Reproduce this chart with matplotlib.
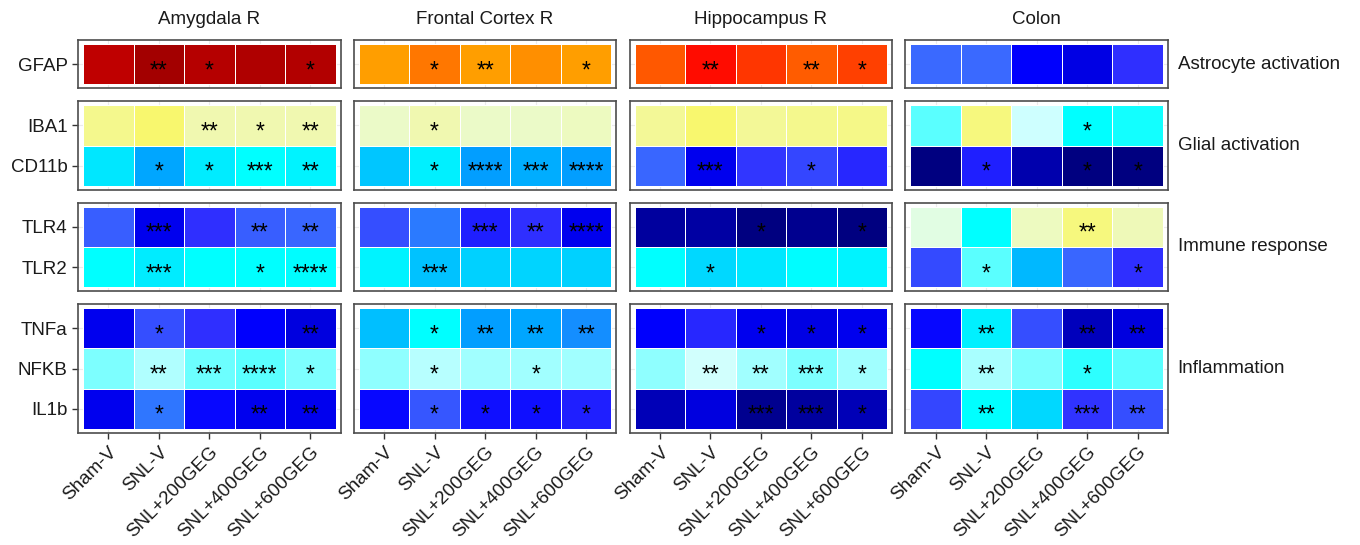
import numpy as np
import matplotlib
matplotlib.use('Agg')
import matplotlib.pyplot as plt
from matplotlib.colors import LinearSegmentedColormap

plt.rcParams['font.family'] = ['Liberation Sans', 'DejaVu Sans']

# Ejes / categorías
treatments = ['Sham-V', 'SNL-V', 'SNL+200GEG', 'SNL+400GEG', 'SNL+600GEG']
tissues = ['Amygdala R', 'Frontal Cortex R', 'Hippocampus R', 'Colon']
groups = ['Astrocyte activation', 'Glial activation', 'Immune response', 'Inflammation']
group_genes = [['GFAP'], ['IBA1', 'CD11b'], ['TLR4', 'TLR2'], ['TNFa', 'NFKB', 'IL1b']]

# Puntuación relativa de expresión (0 = más baja, 1 = más alta), filas:
# GFAP, IBA1, CD11b, TLR4, TLR2, TNFa, NFKB, IL1b
amygdala_vals = [
    [0.939, 0.974, 0.952, 0.958, 0.954],
    [0.625, 0.650, 0.600, 0.600, 0.600],
    [0.363, 0.289, 0.369, 0.400, 0.382],
    [0.218, 0.088, 0.170, 0.218, 0.226],
    [0.400, 0.369, 0.400, 0.400, 0.395],
    [0.088, 0.202, 0.170, 0.100, 0.076],
    [0.456, 0.487, 0.446, 0.438, 0.456],
    [0.088, 0.240, 0.112, 0.088, 0.088],
]
frontal_vals = [
    [0.720, 0.760, 0.720, 0.736, 0.720],
    [0.575, 0.600, 0.575, 0.575, 0.585],
    [0.324, 0.376, 0.280, 0.293, 0.280],
    [0.202, 0.245, 0.147, 0.170, 0.088],
    [0.382, 0.319, 0.333, 0.337, 0.333],
    [0.315, 0.400, 0.280, 0.289, 0.265],
    [0.463, 0.495, 0.470, 0.470, 0.470],
    [0.112, 0.210, 0.123, 0.123, 0.147],
]
hippo_vals = [
    [0.792, 0.848, 0.818, 0.788, 0.812],
    [0.619, 0.650, 0.619, 0.625, 0.631],
    [0.226, 0.088, 0.178, 0.194, 0.158],
    [0.025, 0.031, 0.000, 0.013, 0.000],
    [0.400, 0.341, 0.363, 0.395, 0.382],
    [0.100, 0.158, 0.088, 0.082, 0.088],
    [0.463, 0.520, 0.470, 0.456, 0.470],
    [0.044, 0.076, 0.013, 0.025, 0.044],
]
colon_vals = [
    [0.230, 0.230, 0.100, 0.082, 0.170],
    [0.440, 0.638, 0.516, 0.400, 0.407],
    [0.000, 0.147, 0.038, 0.000, 0.000],
    [0.550, 0.400, 0.585, 0.638, 0.590],
    [0.198, 0.440, 0.306, 0.226, 0.170],
    [0.112, 0.376, 0.202, 0.050, 0.076],
    [0.400, 0.478, 0.456, 0.421, 0.438],
    [0.194, 0.400, 0.341, 0.175, 0.202],
]

# Significancia
amygdala_sig = [
    ['', '**', '*', '', '*'],
    ['', '', '**', '*', '**'],
    ['', '*', '*', '***', '**'],
    ['', '***', '', '**', '**'],
    ['', '***', '', '*', '****'],
    ['', '*', '', '', '**'],
    ['', '**', '***', '****', '*'],
    ['', '*', '', '**', '**'],
]
frontal_sig = [
    ['', '*', '**', '', '*'],
    ['', '*', '', '', ''],
    ['', '*', '****', '***', '****'],
    ['', '', '***', '**', '****'],
    ['', '***', '', '', ''],
    ['', '*', '**', '**', '**'],
    ['', '*', '', '*', ''],
    ['', '*', '*', '*', '*'],
]
hippo_sig = [
    ['', '**', '', '**', '*'],
    ['', '', '', '', ''],
    ['', '***', '', '*', ''],
    ['', '', '*', '', '*'],
    ['', '*', '', '', ''],
    ['', '', '*', '*', '*'],
    ['', '**', '**', '***', '*'],
    ['', '', '***', '***', '*'],
]
colon_sig = [
    ['', '', '', '', ''],
    ['', '', '', '*', ''],
    ['', '*', '', '*', '*'],
    ['', '', '', '**', ''],
    ['', '*', '', '', '*'],
    ['', '**', '', '**', '**'],
    ['', '**', '', '*', ''],
    ['', '**', '', '***', '**'],
]

all_vals = [amygdala_vals, frontal_vals, hippo_vals, colon_vals]
all_sig = [amygdala_sig, frontal_sig, hippo_sig, colon_sig]

# Escala de color
anchors = [
    (0.00, '#000080'), (0.10, '#0000FF'), (0.17, '#3030FF'), (0.23, '#3A6CFF'),
    (0.28, '#00A0FF'), (0.35, '#00E0FF'), (0.40, '#00FFFF'), (0.47, '#A0FFFF'),
    (0.52, '#D0FFFF'), (0.56, '#E8FCD8'), (0.60, '#F0F8B0'), (0.65, '#F8F870'),
    (0.72, '#FFA000'), (0.80, '#FF5000'), (0.86, '#FF0000'), (1.00, '#900000'),
]
cmap = LinearSegmentedColormap.from_list('expr', anchors)

fig = plt.figure(figsize=(13.6, 5.45), dpi=100)
gs = fig.add_gridspec(4, 4, left=78/1360, right=1168/1360, top=1-40/545, bottom=1-433/545,
                      height_ratios=[len(g) + 0.2 for g in group_genes],
                      wspace=0.05, hspace=0.146)

row_start = np.cumsum([0] + [len(g) for g in group_genes])
fs = 13.5

for j, tissue in enumerate(tissues):
    vals = np.array(all_vals[j])
    sig = all_sig[j]
    for i, genes in enumerate(group_genes):
        ax = fig.add_subplot(gs[i, j])
        r0 = row_start[i]
        n = len(genes)
        block = vals[r0:r0 + n]
        ax.set_axisbelow(True)
        ax.grid(True, color='#EBEBEB', lw=0.8, zorder=0)
        xe = np.arange(len(treatments) + 1) - 0.5
        ye = np.arange(n + 1) - 0.5
        ax.pcolormesh(xe, ye, block, cmap=cmap, vmin=0, vmax=1,
                      edgecolors='white', linewidth=0.6, zorder=2)
        for r in range(n):
            for c in range(len(treatments)):
                s = sig[r0 + r][c]
                if s:
                    ax.text(c, r + 0.16, s, ha='center', va='center',
                            fontsize=16.5, color='black', zorder=3)
        ax.set_xlim(-0.6, len(treatments) - 0.4)
        ax.set_ylim(n - 0.4, -0.6)
        ax.set_xticks(range(len(treatments)))
        ax.set_yticks(range(n))
        for sp in ax.spines.values():
            sp.set_color('#4D4D4D')
            sp.set_linewidth(1.2)
            sp.set_zorder(4)
        ax.tick_params(color='#333333', width=1.0, length=4, labelsize=fs,
                       labelcolor='#1A1A1A')
        if j == 0:
            ax.set_yticklabels(genes)
        else:
            ax.tick_params(axis='y', left=False, labelleft=False)
        if i == len(group_genes) - 1:
            ax.set_xticklabels(treatments, rotation=45, ha='right',
                               rotation_mode='anchor')
        else:
            ax.tick_params(axis='x', bottom=False, labelbottom=False)
        if i == 0:
            ax.annotate(tissue, xy=(0.5, 1), xycoords='axes fraction',
                        xytext=(0, 15), textcoords='offset points',
                        ha='center', va='center', fontsize=fs, color='#1A1A1A')
        if j == len(tissues) - 1:
            ax.annotate(groups[i], xy=(1, 0.5), xycoords='axes fraction',
                        xytext=(7, 0), textcoords='offset points',
                        ha='left', va='center', fontsize=fs, color='#1A1A1A')

fig.savefig('out.png', dpi=100)
